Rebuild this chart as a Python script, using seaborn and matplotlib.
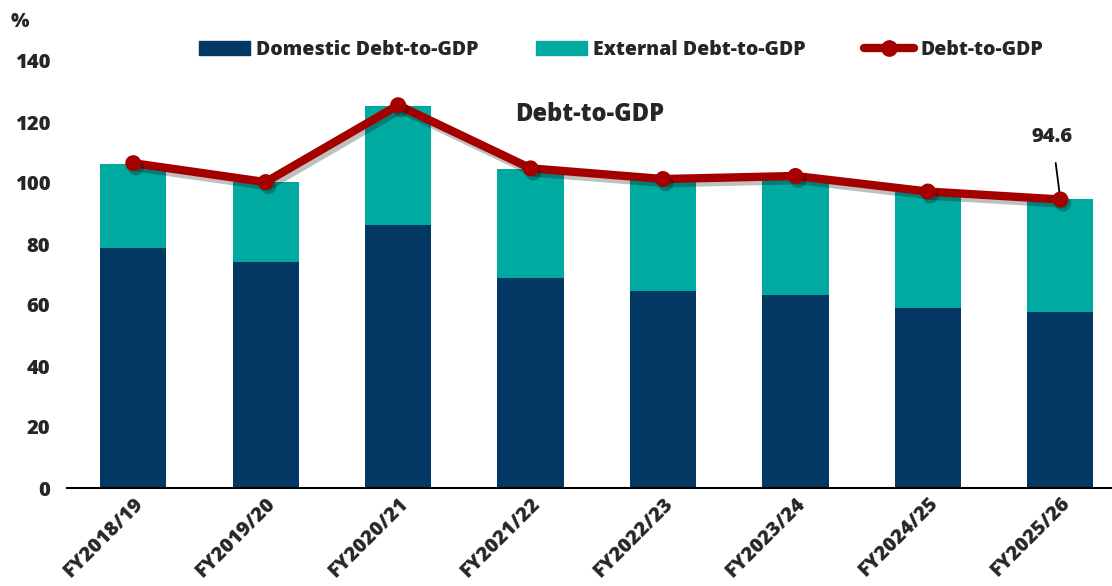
import numpy as np
import pandas as pd
import matplotlib
matplotlib.use("Agg")
import matplotlib.pyplot as plt
import matplotlib.patheffects as pe
from matplotlib.patches import Patch
from matplotlib.lines import Line2D
import seaborn as sns

# Values (% of GDP)
years = ["FY2018/19", "FY2019/20", "FY2020/21", "FY2021/22",
         "FY2022/23", "FY2023/24", "FY2024/25", "FY2025/26"]
domestic = [78.7, 74.1, 86.2, 68.9, 64.6, 63.3, 59.0, 57.6]
external = [27.6, 26.2, 39.1, 35.8, 36.6, 38.6, 38.1, 37.0]
debt_to_gdp = [106.5, 100.3, 125.5, 104.8, 101.3, 102.3, 97.2, 94.6]

c_dom = "#033864"
c_ext = "#00AAA0"
c_line = "#A50000"

sns.set_style("white")
plt.rcParams["font.family"] = ["Open Sans", "DejaVu Sans"]
W = "heavy"

df = pd.DataFrame({"year": years, "domestic": domestic, "external": external,
                   "total": np.array(domestic) + np.array(external),
                   "debt": debt_to_gdp})

fig = plt.figure(figsize=(11.12, 5.86), dpi=100)
ax = fig.add_axes([67 / 1112, 1 - 488 / 586, 1 - 67 / 1112, (488 - 61) / 586])

# stacked bars: total (teal) first, domestic drawn over it
sns.barplot(data=df, x="year", y="total", color=c_ext, width=0.5,
            saturation=1, linewidth=0, ax=ax)
sns.barplot(data=df, x="year", y="domestic", color=c_dom, width=0.5,
            saturation=1, linewidth=0, ax=ax)

shadow = [pe.SimpleLineShadow(offset=(2, -3), shadow_color="black", alpha=0.25),
          pe.Normal()]
sns.pointplot(data=df, x="year", y="debt", color=c_line, markers="o",
              markersize=7, linewidth=6, ax=ax)
for ln in ax.lines:
    ln.set_path_effects(shadow)
    ln.set_zorder(5)

ax.set_xlim(-0.5, 7.39)
ax.set_ylim(0, 140)
ax.set_yticks(range(0, 141, 20))
ax.set_xlabel("")
ax.set_ylabel("")
for s in ["top", "right", "left"]:
    ax.spines[s].set_visible(False)
ax.spines["bottom"].set_color("black")
ax.spines["bottom"].set_linewidth(1.5)
ax.tick_params(axis="y", length=0, pad=12, labelsize=14.5)
ax.tick_params(axis="x", length=0, pad=4, labelsize=14.5)
for lab in ax.get_xticklabels():
    lab.set_rotation(45)
    lab.set_ha("right")
    lab.set_rotation_mode("anchor")
    lab.set_fontweight(W)
for lab in ax.get_yticklabels():
    lab.set_fontweight(W)

ax.text(3.45, 122.5, "Debt-to-GDP", ha="center", va="center",
        fontsize=17, fontweight=W)

# label for the last point
ax.annotate(f"{debt_to_gdp[-1]}", xy=(7, debt_to_gdp[-1]), xytext=(6.94, 115),
            ha="center", va="center", fontsize=14.5, fontweight=W,
            arrowprops=dict(arrowstyle="-", color="black", lw=1.3,
                            shrinkA=9, shrinkB=2))

fig.text(20 / 1112, 1 - 22 / 586, "%", ha="center", va="center",
         fontsize=14, fontweight=W)

handles = [Patch(color=c_dom), Patch(color=c_ext),
           Line2D([0], [0], color=c_line, lw=6, marker="o", markersize=11)]
labels = ["Domestic Debt-to-GDP", "External Debt-to-GDP", "Debt-to-GDP"]
fig.legend(handles, labels, ncol=3, frameon=False, loc="center",
           bbox_to_anchor=(621 / 1112, 1 - 50 / 586),
           handlelength=2.6, handleheight=0.7, handletextpad=0.3,
           columnspacing=3.0, prop={"weight": W, "size": 14})

fig.savefig("out.png", dpi=100)
